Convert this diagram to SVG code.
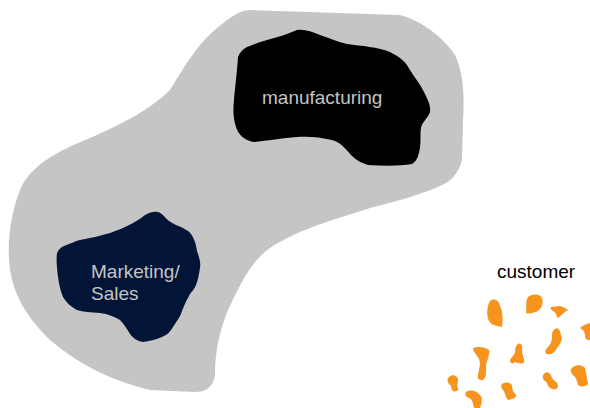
<svg xmlns="http://www.w3.org/2000/svg" width="590" height="408" viewBox="0 0 590 408">
<style>
.lbl{font-family:"Liberation Sans",Arial,sans-serif;font-size:19px;fill:#c4c4c4}
.cust{font-family:"Liberation Sans",Arial,sans-serif;font-size:19px;fill:#000}
.dot{fill:#f7941d}
</style>
<rect width="590" height="408" fill="#fff"/>
<g id="company">
<path fill="#c5c5c5" d="M250,10 L400,15 C425,22 445,40 455,55 C462,70 465,90 463,120 L462,160 C458,175 450,182 440,186 C420,195 400,200 370,208 C340,218 300,228 270,248 C250,262 240,285 228,310 C220,330 215,350 215,375 C213,388 205,392 195,392 L150,390 C110,380 80,365 50,340 C30,320 15,300 10,270 C6,240 12,210 20,190 C30,165 60,150 90,138 C120,125 150,110 170,90 C185,65 200,40 222,24 C235,14 242,10 250,10 Z"/>
</g>
<g id="manufacturing">
<path fill="#000" d="M297,30 C305,29 312,32 320,35 C330,38 338,42 347,44 C362,46 378,47 390,52 C400,57 406,62 410,70 C415,78 420,84 424,92 C428,100 431,106 430,112 C428,118 422,122 421,128 C420,135 421,141 420,147 C419,155 417,161 412,164 C400,166 385,166 368,165 C361,163 356,160 352,156 C345,148 340,142 332,140 C320,137 308,136 297,137 C282,138 266,141 253,142 C244,140 238,134 236,127 C233,118 233,108 234,100 C235,88 237,72 238,57 C240,52 243,49 247,47 C254,44 260,42 267,40 C278,37 288,34 297,30 Z"/>
<text class="lbl" x="262" y="104">manufacturing</text>
</g>
<g id="marketing">
<path fill="#031537" d="M153,212 C157,211 160,212 163,215 C166,219 170,222 176,225 C183,228 188,230 191,234 C195,240 196,245 197,251 C199,257 201,262 200,268 C199,274 198,280 196,285 C194,290 191,292 189,296 C186,301 184,306 182,311 C180,318 176,322 173,327 C170,332 167,335 162,337 C155,340 149,341 143,342 C137,341 133,338 130,334 C127,329 124,324 120,320 C115,317 108,314 100,313 C91,312 83,312 77,310 C70,306 66,302 63,297 C60,290 59,283 58,277 C57,268 56,260 57,253 C59,249 61,247 64,246 C70,244 75,241 80,240 C90,238 100,236 110,233 C118,230 126,227 133,223 C139,220 143,216 147,214 C149,213 151,212 153,212 Z"/>
<text class="lbl"><tspan x="91" y="278">Marketing/</tspan><tspan x="91" y="300">Sales</tspan></text>
</g>
<g id="customer">
<text class="cust" x="497" y="278">customer</text>
<path class="dot" d="M490,301 C494,298 499,300 500,306 C503,312 503,320 502,327 C497,326 491,325 489,321 C486,315 487,306 490,301 Z"/>
<path class="dot" d="M528,297 C533,293 541,294 542,298 C544,304 541,310 536,312 C532,313 528,314 526,313 C527,308 525,301 528,297 Z"/>
<path class="dot" d="M551,307 L560,306 C563,307 566,308 568,310 C564,312 561,316 558,318 C556,317 557,313 553,311 C551,310 550,308 551,307 Z"/>
<path class="dot" d="M590,323 C585,324 582,326 580,328 C583,330 585,331 585,336 C585,339 587,340 590,340 Z"/>
<path class="dot" d="M555,329 C558,327 560,330 561,335 C563,341 560,344 557,348 C555,352 552,355 547,354 C544,353 545,350 548,347 C552,343 552,339 552,335 C552,332 553,330 555,329 Z"/>
<path class="dot" d="M473,348 C478,346 485,347 489,350 C490,355 487,360 486,365 C486,371 487,377 483,380 C479,380 477,379 478,375 C479,369 481,364 479,359 C477,355 473,352 473,348 Z"/>
<path class="dot" d="M518,344 C521,342 523,346 522,350 C522,355 525,359 524,363 C521,364 517,363 515,362 C513,364 511,364 510,361 C510,358 514,356 515,352 C515,348 516,345 518,344 Z"/>
<path class="dot" d="M449,377 C452,374 457,375 458,379 C459,382 456,384 458,388 C459,391 456,392 453,391 C451,389 452,386 449,384 C447,382 447,379 449,377 Z"/>
<path class="dot" d="M466,392 C471,389 477,391 480,395 C483,398 482,403 480,408 L474,408 C473,404 473,400 469,398 C466,397 464,394 466,392 Z"/>
<path class="dot" d="M502,384 C506,382 510,382 512,385 C512,389 513,392 516,395 C517,398 512,399 508,400 C506,398 505,394 504,391 C502,389 500,386 502,384 Z"/>
<path class="dot" d="M545,373 C548,371 551,374 552,378 C554,381 558,382 558,386 C558,390 553,390 550,388 C547,386 548,383 545,381 C542,379 542,375 545,373 Z"/>
<path class="dot" d="M573,367 C577,364 583,365 585,368 C586,372 587,378 588,384 C586,387 580,387 578,385 C577,381 576,377 573,375 C570,372 570,369 573,367 Z"/>
</g>
<g id="connectors"/>
</svg>
